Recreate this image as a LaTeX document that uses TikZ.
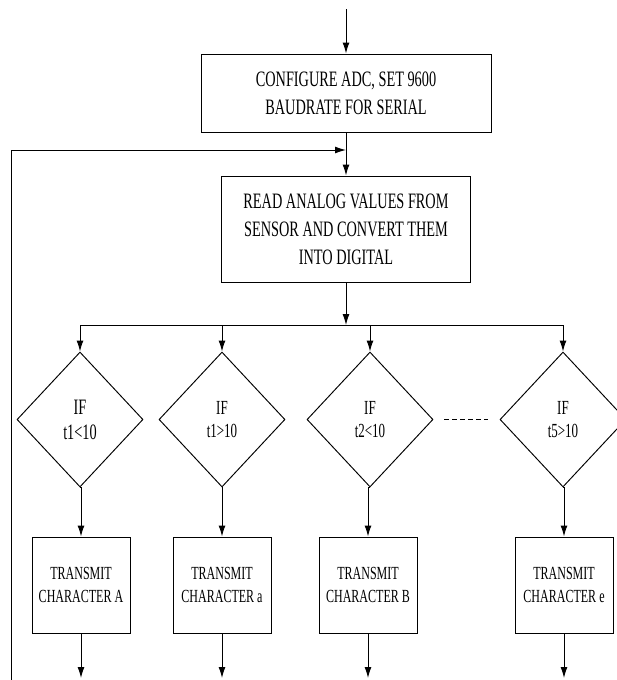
\documentclass[tikz,border=0pt]{standalone}
\usepackage{fontspec}
\setmainfont{Liberation Serif}[FakeStretch=0.65]
\usetikzlibrary{shapes.geometric,arrows.meta}

\begin{document}
\begin{tikzpicture}[x=1pt,y=-1pt,line width=0.95pt,
  bigbox/.style={draw,rectangle,align=center,inner sep=0pt,font=\fontsize{22}{28}\selectfont},
  txbox/.style={draw,rectangle,align=center,minimum width=98pt,minimum height=96pt,inner sep=0pt,font=\fontsize{18.5}{23}\selectfont},
  test/.style={draw,diamond,align=center,minimum width=126pt,minimum height=135pt,inner sep=0pt,font=\fontsize{20}{23}\selectfont},
  arr/.style={-{Latex[length=11pt,width=7pt]}}]
\useasboundingbox (0,0) rectangle (616,680);

% top boxes
\coordinate (start) at (346,9);
\node[bigbox,minimum width=290pt,minimum height=78pt] (cfg) at (346,93) {CONFIGURE ADC, SET 9600\\BAUDRATE FOR SERIAL};
\node[bigbox,minimum width=249pt,minimum height=106pt] (read) at (346,229) {READ ANALOG VALUES FROM\\SENSOR AND CONVERT THEM\\INTO DIGITAL};
\coordinate (merge) at (346,150);
\coordinate (split) at (346,325);

% tests
\node[test,font=\fontsize{22}{25}\selectfont] (t1lt) at (80,419.5) {IF\\t1<10};
\node[test] (t1gt) at (222,419.5) {IF\\t1>10};
\node[test] (t2lt) at (370,419.5) {IF\\t2<10};
\node[test] (t5gt) at (563,419.5) {IF\\t5>10};

% transmit
\node[txbox] (txA) at (81,585) {TRANSMIT\\CHARACTER A};
\node[txbox] (txa) at (222,585) {TRANSMIT\\CHARACTER a};
\node[txbox] (txB) at (368,585) {TRANSMIT\\CHARACTER B};
\node[txbox] (txe) at (564,585) {TRANSMIT\\CHARACTER e};

\coordinate (loop) at (11,680);

% connectors
\draw[arr] (start) -- (cfg);
\draw[arr] (cfg) -- (read);
\draw[arr] (loop) |- (merge);
\draw[arr] (read) -- (split);
\draw (t1lt.north |- split) -- (t5gt.north |- split);
\foreach \t/\x in {t1lt/txA,t1gt/txa,t2lt/txB,t5gt/txe}{
  \draw[arr] (\t.north |- split) -- (\t.north);
  \draw[arr] (\t.south) -- (\x.north |- \t.south) -- (\x.north);
  \draw[arr] (\x.south) -- (\x.south |- 0,678);
}
\draw[dash pattern=on 5pt off 3pt] ([xshift=11pt]t2lt.east) -- ([xshift=-12pt]t5gt.west);
\end{tikzpicture}
\end{document}
